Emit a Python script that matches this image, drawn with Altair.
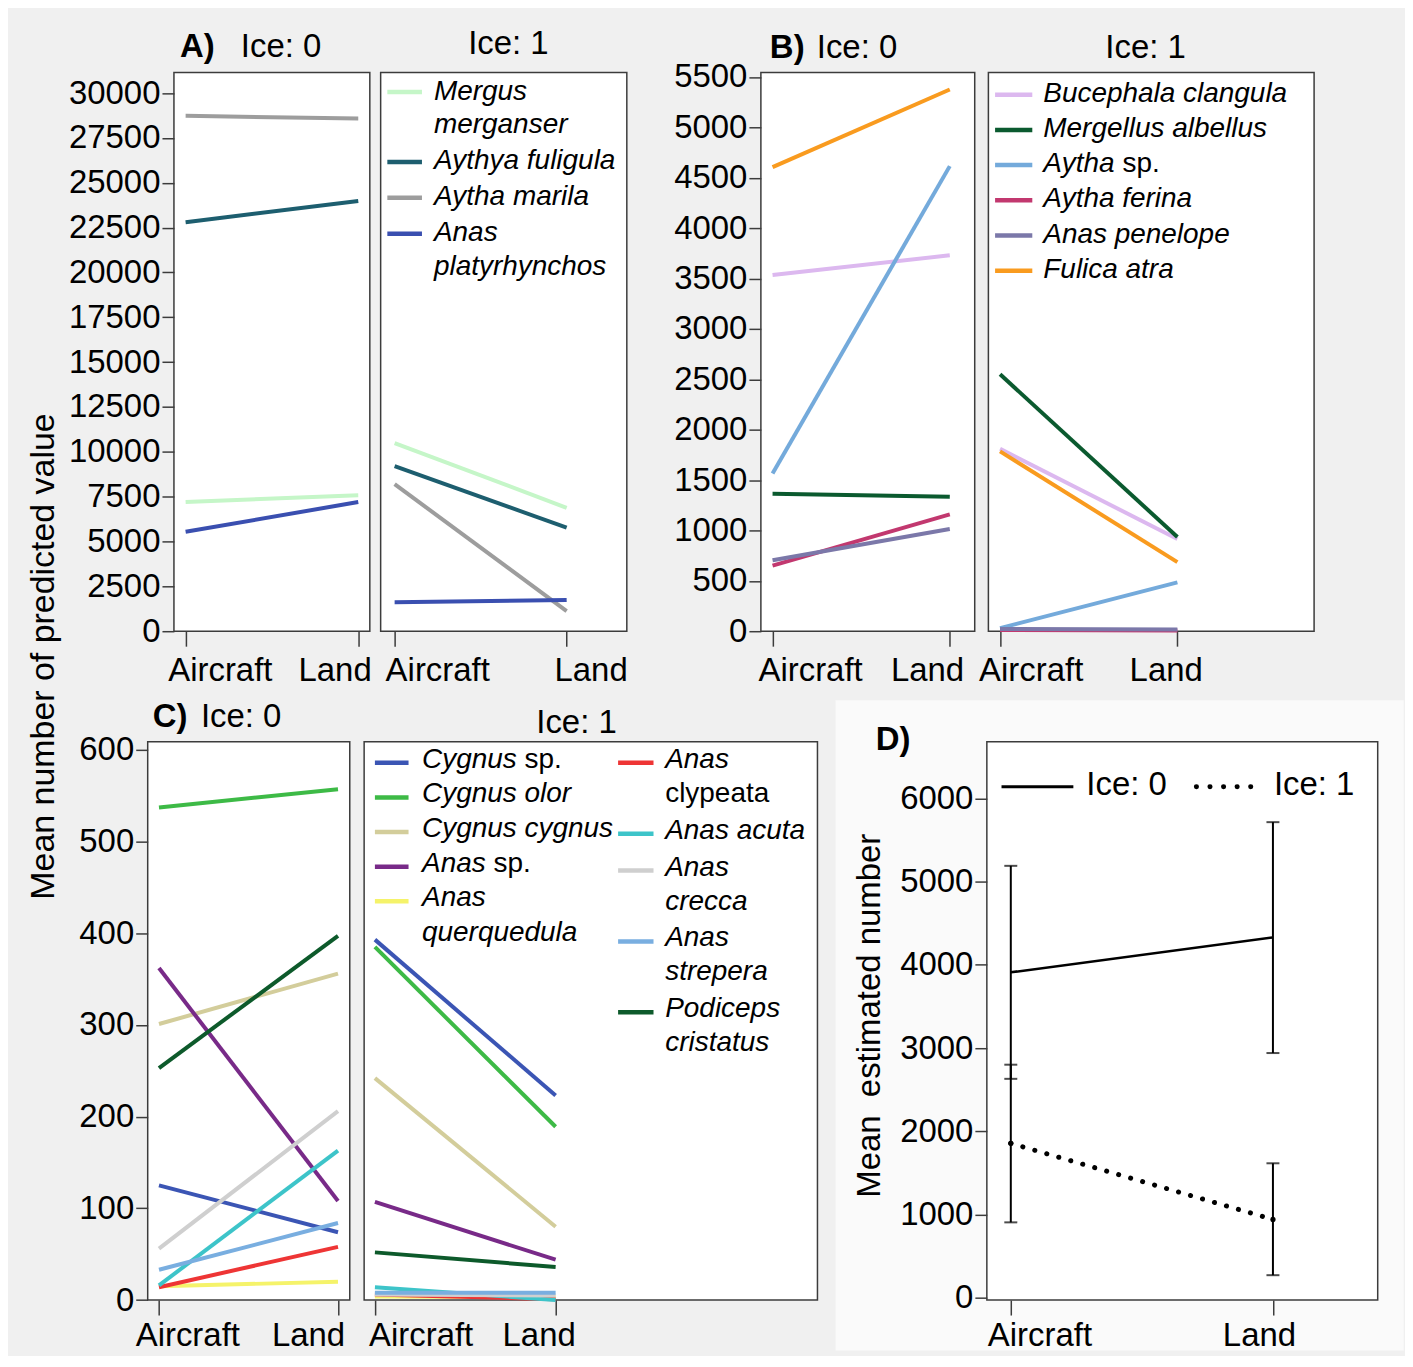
import altair as alt
import pandas as pd

FONT = "Liberation Sans"
INK = "#000000"
FRAME = "#3c3c3c"
BG = "#f0f0f0"
BG_D = "#fafafa"

METHODS = ["Aircraft", "Land"]

# ---------------- data ----------------
A_SPECIES = ["Mergus merganser", "Aythya fuligula", "Aytha marila", "Anas platyrhynchos"]
A_COLORS = ["#c5f6c8", "#1d5e6f", "#9d9d9d", "#3a4fb0"]
A_ICE0_AIRCRAFT = [7200, 22800, 28730, 5540]
A_ICE0_LAND = [7580, 23980, 28580, 7200]
A_ICE1_AIRCRAFT = [10490, 9200, 8200, 1620]
A_ICE1_LAND = [6880, 5770, 1120, 1740]
A_TICKS = [0, 2500, 5000, 7500, 10000, 12500, 15000, 17500, 20000, 22500, 25000, 27500, 30000]

B_SPECIES = ["Bucephala clangula", "Mergellus albellus", "Aytha sp.", "Aytha ferina",
             "Anas penelope", "Fulica atra"]
B_COLORS = ["#dcb8ef", "#0b5a2f", "#74aadb", "#c2386f", "#7b78a9", "#f99b1f"]
B_ICE0_AIRCRAFT = [3535, 1365, 1565, 650, 705, 4605]
B_ICE0_LAND = [3730, 1335, 4615, 1160, 1015, 5375]
B_ICE1_AIRCRAFT = [1810, 2550, 30, 12, 22, 1785]
B_ICE1_LAND = [915, 935, 485, 6, 18, 685]
B_TICKS = [0, 500, 1000, 1500, 2000, 2500, 3000, 3500, 4000, 4500, 5000, 5500]

C_SPECIES = ["Cygnus sp.", "Cygnus olor", "Cygnus cygnus", "Anas sp.", "Anas querquedula",
             "Anas clypeata", "Anas acuta", "Anas crecca", "Anas strepera", "Podiceps cristatus"]
C_COLORS = ["#3b55b4", "#3dba46", "#d3cd9b", "#782a88", "#f5f36a",
            "#ee3535", "#3dc4c9", "#cfcfcf", "#79aee0", "#0d5a2b"]
C_ICE0_AIRCRAFT = [125, 537, 301, 362, 15, 14, 16, 56, 33, 253]
C_ICE0_LAND = [74, 557, 356, 108, 20, 58, 163, 206, 84, 397]
C_ICE1_AIRCRAFT = [393, 385, 242, 107, 4, 6, 14, 6, 8, 52]
C_ICE1_LAND = [223, 189, 80, 44, 3, 1, 0, 5, 8, 36]
C_TICKS = [0, 100, 200, 300, 400, 500, 600]

D_ICE = ["0", "1"]
D_MEAN_ICE0 = [3910, 4330]
D_LO_ICE0 = [2630, 2940]
D_HI_ICE0 = [5190, 5715]
D_MEAN_ICE1 = [1855, 940]
D_LO_ICE1 = [905, 270]
D_HI_ICE1 = [2800, 1615]
D_TICKS = [0, 1000, 2000, 3000, 4000, 5000, 6000]

PANEL_TITLES = ["Ice: 0", "Ice: 1"]
Y_TITLE_MAIN = "Mean number of predicted value"
Y_TITLE_D = "Mean\u00a0 estimated number"

# legend label line breaks and upright (non-italic) words
LEGEND_LINES = {
    "Mergus merganser": ["Mergus", "merganser"],
    "Anas platyrhynchos": ["Anas", "platyrhynchos"],
    "Anas querquedula": ["Anas", "querquedula"],
    "Anas clypeata": ["Anas", "clypeata"],
    "Anas crecca": ["Anas", "crecca"],
    "Anas strepera": ["Anas", "strepera"],
    "Podiceps cristatus": ["Podiceps", "cristatus"],
}
UPRIGHT_WORDS = {"sp.", "clypeata"}

# ---------------- helpers ----------------
CW = {" ": 278, ".": 278, ":": 278,
      "a": 556, "b": 556, "c": 500, "d": 556, "e": 556, "f": 278, "g": 556, "h": 556, "i": 222,
      "j": 222, "k": 500, "l": 222, "m": 833, "n": 556, "o": 556, "p": 556, "q": 556, "r": 333,
      "s": 500, "t": 278, "u": 556, "v": 500, "w": 722, "x": 500, "y": 500, "z": 500,
      "A": 667, "B": 667, "C": 722, "D": 722, "F": 611, "M": 833, "P": 667}


def text_w(s, size):
    return sum(CW.get(ch, 556) for ch in s) * size / 1000.0


def long_df(species, colors, aircraft, land):
    rows = []
    for s, c, a, l in zip(species, colors, aircraft, land):
        rows.append({"species": s, "color": c, "method": METHODS[0], "value": a})
        rows.append({"species": s, "color": c, "method": METHODS[1], "value": l})
    return pd.DataFrame(rows)


def x_axis(off_air, off_land, pad, zindex=0):
    return alt.Axis(title=None, domain=False, grid=False, ticks=True, tickSize=15, tickWidth=1.5,
                    tickColor=FRAME, labelFont=FONT, labelFontSize=33, labelColor=INK, labelAngle=0,
                    labelPadding=pad, labelOverlap=False,
                    labelOffset={"condition": {"test": "datum.value === 'Aircraft'", "value": off_air},
                                 "value": off_land},
                    zindex=zindex)


def y_axis(values, zindex=0, **kw):
    return alt.Axis(values=values, format="d", domain=False, grid=False, tickSize=12, tickWidth=1.5,
                    tickColor=FRAME, labelFont=FONT, labelFontSize=33, labelColor=INK, labelPadding=2,
                    labelOverlap=False, zindex=zindex, **kw)


def label(text, x, y, weight="normal", size=33):
    return alt.Chart(pd.DataFrame({"t": [text]})).mark_text(
        align="left", baseline="alphabetic", font=FONT, fontSize=size, fontWeight=weight, color=INK
    ).encode(text="t:N", x=alt.value(x), y=alt.value(y))


LFS = 28


def legend_layers(columns):
    layers = []
    for sp_list, col_list, sx0, sx1, tx, y0, step, gap, sdy in columns:
        line_i = 0
        for ei, (sp, col) in enumerate(zip(sp_list, col_list)):
            lines = LEGEND_LINES.get(sp, [sp])
            ytop = y0 + step * line_i + gap * ei
            layers.append(
                alt.Chart(pd.DataFrame({"species": [sp]})).mark_rule(strokeWidth=4.5, color=col).encode(
                    x=alt.value(sx0), x2=alt.value(sx1), y=alt.value(ytop + sdy)))
            for li, line in enumerate(lines):
                y = ytop + step * li
                runs = []
                for w in line.split(" "):
                    st = "normal" if w in UPRIGHT_WORDS else "italic"
                    if runs and runs[-1][1] == st:
                        runs[-1][0] += " " + w
                    else:
                        if runs:
                            runs[-1][0] += " "
                        runs.append([w, st])
                x = tx
                for txt, st in runs:
                    layers.append(
                        alt.Chart(pd.DataFrame({"t": [txt.strip()]})).mark_text(
                            align="left", baseline="middle", font=FONT, fontSize=LFS, fontStyle=st,
                            color=INK).encode(text="t:N", x=alt.value(x), y=alt.value(y)))
                    x += text_w(txt, LFS)
            line_i += len(lines)
    return layers


def species_panel(species, colors, aircraft, land, width, height, xr, offs, xpad, ydom, yticks,
                  headers, legend=None, spacer_x=None):
    df = long_df(species, colors, aircraft, land)
    lines = alt.Chart(df).mark_line(strokeWidth=4, strokeCap="butt").encode(
        x=alt.X("method:N", title=None,
                scale=alt.Scale(type="point", domain=METHODS, range=xr, padding=0),
                axis=x_axis(offs[0], offs[1], xpad)),
        y=alt.Y("value:Q", title=None, scale=alt.Scale(domain=ydom, nice=False, zero=False),
                axis=y_axis(yticks) if yticks else None),
        color=alt.Color("color:N", scale=None, legend=None),
        detail="species:N",
    )
    layers = [lines]
    for h in headers:
        layers.append(label(*h))
    if legend:
        layers += legend_layers(legend)
    if spacer_x is not None:
        layers.append(alt.Chart(pd.DataFrame({"k": [0]})).mark_rule(opacity=0).encode(
            x=alt.value(spacer_x), x2=alt.value(spacer_x + 5), y=alt.value(height / 2)))
    return alt.layer(*layers).properties(width=width, height=height)


# ---------------- panels A & B ----------------
H1 = 560
A_DOM = [0, 31150]
B_DOM = [0, 5545]

A0 = species_panel(A_SPECIES, A_COLORS, A_ICE0_AIRCRAFT, A_ICE0_LAND, 196.3, H1, [11.7, 184.7],
                   (34.3, -23.7), 8.7, A_DOM, A_TICKS,
                   [("A)", 6, -15.3, "bold"), (PANEL_TITLES[0], 67, -15.3)])
A1 = species_panel(A_SPECIES, A_COLORS, A_ICE1_AIRCRAFT, A_ICE1_LAND, 246.7, H1, [14, 186.4],
                   (42.7, 24), 8.7, A_DOM, None, [(PANEL_TITLES[1], 87.7, -18)],
                   legend=[(A_SPECIES, A_COLORS, 6.7, 41.4, 53.4, 19.2, 34, 2, 0.5)])
B0 = species_panel(B_SPECIES, B_COLORS, B_ICE0_AIRCRAFT, B_ICE0_LAND, 214.3, H1, [11.7, 189.3],
                   (37.6, -22.8), 8.7, B_DOM, B_TICKS,
                   [("B)", 9, -14, "bold"), (PANEL_TITLES[0], 56, -14)])
B1 = species_panel(B_SPECIES, B_COLORS, B_ICE1_AIRCRAFT, B_ICE1_LAND, 326.4, H1, [11.7, 189.4],
                   (30.7, -11.7), 8.7, B_DOM, None, [(PANEL_TITLES[1], 117.2, -14)],
                   legend=[(B_SPECIES, B_COLORS, 6.7, 44, 55, 21.3, 35.3, 0, 1)])

# ---------------- panel C ----------------
H2 = 559.4
C_DOM = [0, 608.6]
C0 = species_panel(C_SPECIES, C_COLORS, C_ICE0_AIRCRAFT, C_ICE0_LAND, 202.5, H2, [11.3, 190.7],
                   (28.4, -30), 5, C_DOM, C_TICKS,
                   [("C)", 5, -15, "bold"), (PANEL_TITLES[0], 53.3, -15)], spacer_x=-80.4)
C1 = species_panel(C_SPECIES, C_COLORS, C_ICE1_AIRCRAFT, C_ICE1_LAND, 454.3, H2, [10.8, 191.9],
                   (45.8, -17), 5, C_DOM, None, [(PANEL_TITLES[1], 172.5, -9)],
                   legend=[(C_SPECIES[:5], C_COLORS[:5], 10.8, 44.5, 58, 18, 34.7, 0, 3),
                           (C_SPECIES[5:], C_COLORS[5:], 254.5, 290, 301.7, 18, 34, 3, 3)])

# ---------------- panel D ----------------
D_W = 391.7
ddf = pd.DataFrame({
    "method": METHODS * 2,
    "ice": [D_ICE[0]] * 2 + [D_ICE[1]] * 2,
    "mean": D_MEAN_ICE0 + D_MEAN_ICE1,
    "lo": D_LO_ICE0 + D_LO_ICE1,
    "hi": D_HI_ICE0 + D_HI_ICE1,
})
d_x = alt.X("method:N", title=None,
            scale=alt.Scale(type="point", domain=METHODS, range=[24, 286.7], padding=0),
            axis=x_axis(28.7, -14, 4.6, zindex=1))
d_scale = alt.Scale(domain=[-29, 6680], nice=False, zero=False)
d_axis = y_axis(D_TICKS, zindex=1, title=Y_TITLE_D, titleX=-107.3, titleY=274,
                titleAngle=270, titleAlign="center", titleBaseline="alphabetic", titleFont=FONT,
                titleFontSize=33, titleFontWeight="normal", titleColor=INK)


def d_y(field):
    return alt.Y(field, title=Y_TITLE_D, scale=d_scale, axis=d_axis)


one = pd.DataFrame({"k": [0]})
d_bg = alt.Chart(one).mark_rect(color=BG_D).encode(
    x=alt.value(-151.6), x2=alt.value(417.7), y=alt.value(-41.8), y2=alt.value(610))
d_frame = alt.Chart(one).mark_rect(fill="white", stroke=FRAME, strokeWidth=1.5).encode(
    x=alt.value(0), x2=alt.value(D_W), y=alt.value(0), y2=alt.value(H2))
d_err = alt.Chart(ddf).mark_rule(color=INK, strokeWidth=2).encode(x=d_x, y=d_y("lo:Q"), y2="hi:Q")
d_cap_lo = alt.Chart(ddf).mark_tick(color=INK, thickness=2, size=13).encode(x=d_x, y=d_y("lo:Q"))
d_cap_hi = alt.Chart(ddf).mark_tick(color=INK, thickness=2, size=13).encode(x=d_x, y=d_y("hi:Q"))
d_line0 = alt.Chart(ddf[ddf["ice"] == D_ICE[0]]).mark_line(color=INK, strokeWidth=2.5).encode(
    x=d_x, y=d_y("mean:Q"))
d_line1 = alt.Chart(ddf[ddf["ice"] == D_ICE[1]]).mark_line(
    color=INK, strokeWidth=5, strokeDash=[0.1, 12.4], strokeCap="round").encode(x=d_x, y=d_y("mean:Q"))
d_pts1 = alt.Chart(ddf[ddf["ice"] == D_ICE[1]]).mark_point(
    filled=True, size=28, color=INK, opacity=1).encode(x=d_x, y=d_y("mean:Q"))
d_leg0 = alt.Chart(one).mark_rule(color=INK, strokeWidth=3).encode(
    x=alt.value(14.7), x2=alt.value(86.7), y=alt.value(44.9))
d_leg1 = alt.Chart(one).mark_rule(color=INK, strokeWidth=5, strokeDash=[0.1, 13.5], strokeCap="round").encode(
    x=alt.value(210), x2=alt.value(276.7), y=alt.value(44.9))

D = alt.layer(d_bg, d_frame, d_err, d_cap_lo, d_cap_hi, d_line0, d_line1, d_pts1,
              d_leg0, d_leg1, label(PANEL_TITLES[0], 99.7, 53.5), label(PANEL_TITLES[1], 287.7, 53.5),
              label("D)", -111.3, 7.7, "bold")).properties(width=D_W, height=H2)

# invisible anchor: lets row 2 start left of row 1's first plot
ANCHOR = alt.Chart(one).mark_rule(opacity=0, strokeWidth=0.1).encode(
    x=alt.value(0), x2=alt.value(0.5), y=alt.value(0)
).properties(width=1, height=1,
             view=alt.ViewBackground(fillOpacity=0, strokeOpacity=0, strokeWidth=0))

# ---------------- composition ----------------
row1 = alt.hconcat(
    alt.hconcat(ANCHOR, alt.hconcat(A0, A1, spacing=7.15), spacing=-81.7),
    alt.hconcat(B0, B1, spacing=1),
    spacing=43.5,
)
row2 = alt.hconcat(alt.hconcat(C0, C1, spacing=11.9), D, spacing=15.95)

chart = alt.ConcatChart(concat=[row1, row2], columns=1, spacing=9.9).properties(
    title=alt.TitleParams(Y_TITLE_MAIN, orient="left", anchor="middle",
                          offset=6, dx=34.3, font=FONT, fontSize=34,
                          fontWeight="normal", color=INK),
    padding={"left": 18, "top": 18.1, "right": 0, "bottom": 0},
    background=BG,
).configure_view(fill="white", stroke=FRAME, strokeWidth=1.5)

chart.save("out.html", embed_options={"renderer": "svg", "actions": False})
